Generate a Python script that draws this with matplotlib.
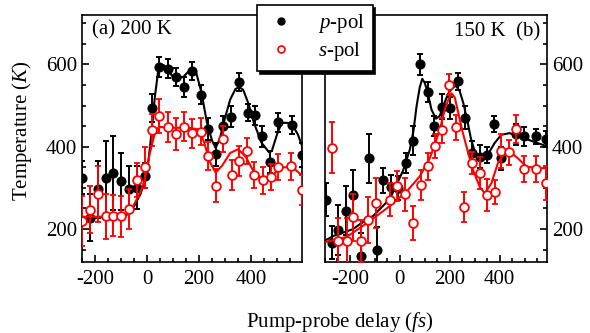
import matplotlib
matplotlib.use("Agg")
import matplotlib.pyplot as plt
from matplotlib.lines import Line2D
from matplotlib.ticker import MultipleLocator

# ---------------- data: panel (a) 200 K ----------------
p_a_x = [-249, -219, -190, -159, -130, -100, -69, -38, -8, 20, 47, 80, 110, 142, 174, 206,
         236, 264, 293, 323, 355, 387, 415, 444, 473, 505, 559, 597]
p_a_y = [325, 228, 297, 323, 336, 316, 297, 300, 330, 494, 594, 590, 570, 546, 584, 526,
         444, 382, 451, 473, 558, 483, 477, 425, 363, 460, 453, 380]
p_a_err = [40, 58, 69, 91, 90, 69, 57, 52, 31, 35, 25, 23, 22, 24, 22, 23,
           27, 28, 24, 26, 22, 20, 23, 26, 27, 23, 22, 30]

s_a_x = [-249, -219, -190, -159, -130, -100, -69, -37, -8, 20, 47, 80, 110, 142, 174, 206,
         236, 264, 294, 326, 354, 383, 413, 445, 476, 505, 554, 597]
s_a_y = [220, 247, 285, 231, 232, 231, 249, 319, 350, 441, 475, 448, 430, 449, 433, 436,
         378, 305, 418, 331, 366, 390, 331, 318, 327, 351, 352, 295]
s_a_err = [60, 57, 69, 55, 50, 50, 49, 41, 50, 39, 41, 37, 39, 35, 35, 33,
           34, 40, 32, 36, 36, 32, 32, 32, 31, 32, 32, 36]

fit_a_p_x = [-250, -200, -150, -100, -75, -50, -25, 0, 15, 30, 42, 50, 65, 80, 100, 120, 140,
             160, 175, 190, 210, 230, 250, 264, 280, 300, 320, 340, 355, 370, 390, 410, 440,
             470, 480, 500, 518, 540, 560, 580, 600]
fit_a_p_y = [229, 229, 229, 230, 236, 255, 285, 335, 420, 520, 580, 600, 598, 585, 570, 565, 570,
             583, 588, 578, 530, 460, 415, 397, 420, 470, 515, 540, 545, 538, 505, 460, 410,
             386, 390, 430, 458, 458, 452, 430, 395]

fit_a_s_x = [-250, -200, -150, -100, -86, -70, -48, -25, -9, 10, 29, 43, 55, 80, 120, 160, 200,
             220, 240, 264, 290, 320, 351, 380, 410, 444, 480, 518, 560, 600]
fit_a_s_y = [230, 230, 230, 230, 230, 238, 262, 290, 318, 382, 430, 446, 448, 446, 446, 446, 442,
             410, 365, 337, 355, 385, 394, 375, 340, 321, 330, 350, 350, 328]

# ---------------- data: panel (b) 150 K ----------------
p_b_x = [-296, -273, -247, -216, -187, -156, -124, -93, -67, -37, -9, 24, 53, 80, 112, 138, 171,
         203, 233, 260, 291, 320, 349, 376, 407, 465, 497, 544, 587]
p_b_y = [271, 167, 198, 245, 283, 134, 372, 150, 318, 303, 300, 360, 415, 600, 533, 450, 497,
         494, 559, 470, 385, 376, 380, 455, 372, 430, 425, 425, 419]
p_b_err = [40, 40, 61, 59, 61, 57, 59, 55, 30, 28, 30, 24, 36, 26, 25, 25, 30,
           27, 20, 28, 28, 28, 20, 19, 28, 25, 23, 18, 20]

s_b_x = [-273, -247, -213, -187, -156, -127, -96, -40, -11, 20, 53, 83, 113, 140, 171, 197, 227,
         256, 291, 320, 349, 380, 407, 437, 467, 497, 544, 587]
s_b_y = [398, 171, 171, 229, 171, 222, 264, 271, 305, 285, 215, 307, 352, 401, 440, 551, 447,
         254, 361, 337, 283, 290, 389, 386, 443, 346, 346, 311]
s_b_err = [61, 55, 55, 57, 50, 57, 61, 40, 37, 40, 41, 37, 33, 29, 31, 25, 31,
           37, 27, 39, 39, 29, 41, 31, 35, 31, 31, 41]

fit_b_p_x = [-300, -267, -220, -187, -160, -107, -40, 13, 40, 55, 67, 80, 90, 100, 110, 127, 145,
             160, 175, 193, 210, 225, 240, 255, 270, 285, 300, 327, 350, 380, 407, 440, 480,
             533, 590]
fit_b_p_y = [172, 183, 193, 200, 212, 232, 273, 342, 393, 440, 498, 545, 565, 555, 535, 490, 468,
             475, 500, 528, 543, 548, 535, 505, 465, 420, 389, 366, 378, 409, 429, 433, 425,
             413, 401]

fit_b_s_x = [-300, -213, -133, -53, 27, 80, 120, 140, 160, 180, 193, 207, 220, 233, 250, 267,
             293, 320, 340, 367, 393, 420, 440, 473, 507, 547, 590]
fit_b_s_y = [168, 181, 214, 250, 291, 328, 372, 405, 441, 490, 512, 530, 520, 486, 440, 401,
             344, 303, 287, 311, 360, 385, 389, 372, 352, 348, 348]

# ---------------- style ----------------
plt.rcParams['font.family'] = ['Liberation Serif', 'DejaVu Serif']
plt.rcParams['font.size'] = 15
plt.rcParams['mathtext.fontset'] = 'custom'
plt.rcParams['mathtext.rm'] = 'Liberation Serif'
plt.rcParams['mathtext.it'] = 'Liberation Serif:italic'
plt.rcParams['axes.unicode_minus'] = False
plt.rcParams['axes.linewidth'] = 1.2

fig = plt.figure(figsize=(5.9, 3.33), dpi=100)
W, H = 590.0, 333.0
ax1 = fig.add_axes([82 / W, 71 / H, 220 / W, 247 / H])
ax2 = fig.add_axes([325 / W, 71 / H, 222 / W, 247 / H])

ms = 6.3
eb_kw = dict(capsize=2.5, elinewidth=1.4, capthick=1.4, linestyle='none', markersize=ms)


def draw(ax, px, py, pe, sx, sy, se, fpx, fpy, fsx, fsy):
    ax.plot(fpx, fpy, color='black', lw=1.5, zorder=2)
    ax.errorbar(px, py, yerr=pe, fmt='o', color='black', ecolor='black', zorder=3, **eb_kw)
    ax.plot(fsx, fsy, color='red', lw=1.5, zorder=4)
    ax.errorbar(sx, sy, yerr=se, fmt='o', color='red', ecolor='red', mfc='white', mec='red',
                mew=1.3, zorder=5, **eb_kw)
    ax.set_ylim(120, 720)
    ax.xaxis.set_major_locator(MultipleLocator(200))
    ax.xaxis.set_minor_locator(MultipleLocator(50))
    ax.yaxis.set_major_locator(MultipleLocator(200))
    ax.yaxis.set_minor_locator(MultipleLocator(50))
    ax.tick_params(which='both', direction='in', width=1.2)
    ax.tick_params(which='major', length=5, labelsize=15)
    ax.tick_params(which='minor', length=3)


draw(ax1, p_a_x, p_a_y, p_a_err, s_a_x, s_a_y, s_a_err, fit_a_p_x, fit_a_p_y, fit_a_s_x, fit_a_s_y)
draw(ax2, p_b_x, p_b_y, p_b_err, s_b_x, s_b_y, s_b_err, fit_b_p_x, fit_b_p_y, fit_b_s_x, fit_b_s_y)

ax1.set_xlim(-250, 596)
ax2.set_xlim(-300, 590)
ax1.tick_params(which='both', top=False, right=False, left=True, bottom=True)
ax1.tick_params(axis='x', pad=6)
ax2.tick_params(which='both', top=False, right=True, left=False, bottom=True,
                labelleft=False, labelright=True)
ax2.tick_params(axis='x', pad=6)

fig.text(92 / W, 1 - 30 / H, '(a) 200 K', ha='left', va='center', fontsize=15)
fig.text(540 / W, 1 - 32 / H, '150 K  (b)', ha='right', va='center', fontsize=15)

fig.text(22 / W, 1 - 131 / H, 'Temperature ($K$)', rotation=90, ha='center', va='center', fontsize=15)
fig.text(340 / W, 1 - 322 / H, 'Pump-probe delay ($fs$)', ha='center', va='center', fontsize=15)

handles = [Line2D([], [], marker='o', color='black', linestyle='none', markersize=5),
           Line2D([], [], marker='o', color='red', mfc='white', mec='red', mew=1.2,
                  linestyle='none', markersize=5)]
leg = fig.legend(handles, ['$p$-pol', '$s$-pol'], loc='upper left',
                 bbox_to_anchor=(257 / W, 1 - 5 / H), frameon=True, fancybox=False,
                 edgecolor='black', framealpha=1, shadow={'color': 'black', 'alpha': 1},
                 handlelength=1.6, handletextpad=1.0, borderpad=0.35, labelspacing=0.25,
                 borderaxespad=0, fontsize=15)
leg.get_frame().set_linewidth(1.2)

fig.savefig('out.png', dpi=100)
